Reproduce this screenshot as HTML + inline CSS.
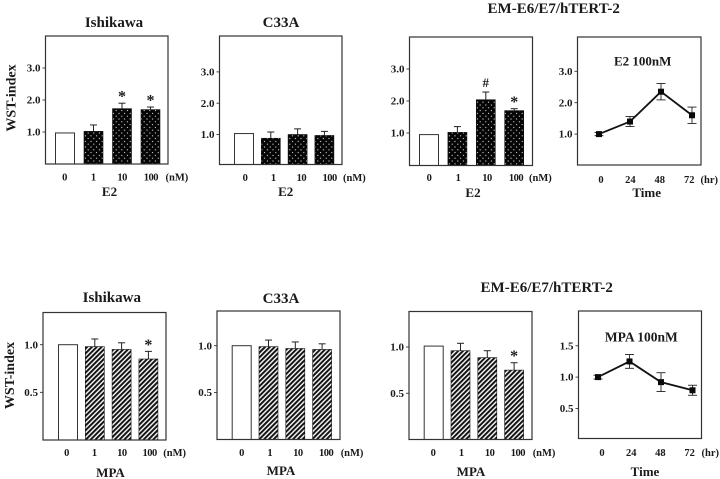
<!DOCTYPE html>
<html lang="en">
<head>
<meta charset="utf-8">
<title>WST-index charts</title>
<style>
html,body{margin:0;padding:0;background:#fff;}
body{width:720px;height:479px;overflow:hidden;}
svg{display:block;filter:blur(0.3px);}
text{font-family:"Liberation Serif",serif;font-weight:bold;fill:#1a1a1a;}
</style>
</head>
<body>
<svg id="figure" width="720" height="479" viewBox="0 0 720 479" xmlns="http://www.w3.org/2000/svg">
<defs>
<pattern id="dots" patternUnits="userSpaceOnUse" width="5.6" height="5.6">
<rect width="5.6" height="5.6" fill="#050505"/>
<circle cx="1.4" cy="1.4" r="0.6" fill="#e8e8e8"/>
<circle cx="4.2" cy="4.2" r="0.6" fill="#e8e8e8"/>
</pattern>
<pattern id="hatch" patternUnits="userSpaceOnUse" width="3.4" height="3.4" patternTransform="rotate(-45)">
<rect width="3.4" height="3.4" fill="#efefef"/>
<rect width="3.4" height="1.9" fill="#111"/>
</pattern>
</defs>
</svg>
<script>
var doseLabels = ['0', '1', '10', '100'];
var timeLabels = ['0', '24', '48', '72'];

var e2TickLabels = ['1.0', '2.0', '3.0'];
var e2TickValues = [1, 2, 3];
var mpaTickLabels = ['0.5', '1.0'];
var mpaTickValues = [0.5, 1];
var mpaTimeTickLabels = ['0.5', '1.0', '1.5'];
var mpaTimeTickValues = [0.5, 1, 1.5];

var ishikawaE2Values = [0.97, 1.02, 1.73, 1.70];
var ishikawaE2ErrorTops = [null, 1.22, 1.90, 1.78];
var ishikawaE2Marks = ['', '', '*', '*'];

var c33aE2Values = [1.03, 0.88, 1.00, 0.97];
var c33aE2ErrorTops = [null, 1.08, 1.18, 1.10];
var c33aE2Marks = ['', '', '', ''];

var emE2Values = [0.95, 1.02, 2.04, 1.70];
var emE2ErrorTops = [null, 1.20, 2.28, 1.76];
var emE2Marks = ['', '', '#', '*'];

var timeE2Values = [1.0, 1.4, 2.35, 1.6];
var timeE2Errors = [0.05, 0.16, 0.26, 0.26];

var ishikawaMpaValues = [1.0, 0.98, 0.95, 0.85];
var ishikawaMpaErrorTops = [null, 1.06, 1.02, 0.93];
var ishikawaMpaMarks = ['', '', '', '*'];

var c33aMpaValues = [1.0, 0.99, 0.97, 0.96];
var c33aMpaErrorTops = [null, 1.06, 1.04, 1.02];
var c33aMpaMarks = ['', '', '', ''];

var emMpaValues = [1.01, 0.96, 0.885, 0.75];
var emMpaErrorTops = [null, 1.04, 0.96, 0.83];
var emMpaMarks = ['', '', '', '*'];

var timeMpaValues = [1.0, 1.25, 0.92, 0.79];
var timeMpaErrors = [0.03, 0.11, 0.15, 0.08];

var svg = document.getElementById('figure');
var NS = 'http://www.w3.org/2000/svg';

function make(tag, attrs, name) {
  var el = document.createElementNS(NS, tag);
  for (var k in attrs) { el.setAttribute(k, attrs[k]); }
  
  
  return el;
}

function label(parent, x, y, str, size, anchor, name, spacing) {
  var t = make('text', {x: x, y: y, 'font-size': size, 'text-anchor': anchor || 'middle'}, name);
  if (spacing) { t.style.letterSpacing = spacing + 'px'; }
  t.textContent = str;
  parent.appendChild(t);
  return t;
}

function frame(id, g) {
  var box = make('rect', {x: g.left, y: g.top, width: g.right - g.left, height: g.bottom - g.top, fill: 'none', stroke: '#333', 'stroke-width': 1.2}, id + '-plot-frame');
  return box;
}

function yAxis(parent, id, g, tickValues, tickLabels) {
  var yScale = function (v) { return g.zero - v * g.unit; };
  tickValues.forEach(function (v, i) {
    var y = yScale(v);
    parent.appendChild(make('line', {x1: g.left - 3, x2: g.left, y1: y, y2: y, stroke: '#333', 'stroke-width': 0.9}, id + '-y-tick'));
    label(parent, g.left - 5, y + 3.6, tickLabels[i], 11, 'end', id + '-y-tick-label');
  });
  return yScale;
}

function barPanel(id, g, values, errorTops, marks, fillId, tickValues, tickLabels, xName) {
  var p = make('g', {}, id + '-panel');
  svg.appendChild(p);
  var yScale = yAxis(p, id, g, tickValues, tickLabels);
  var xScale = function (i) { return g.x0 + i * g.step; };
  var w = 19;
  values.forEach(function (v, i) {
    var cx = xScale(i);
    if (errorTops[i] !== null) {
      p.appendChild(make('line', {x1: cx, x2: cx, y1: yScale(v), y2: yScale(errorTops[i]), stroke: '#222', 'stroke-width': 1}, id + '-error-bar'));
      p.appendChild(make('line', {x1: cx - 3.5, x2: cx + 3.5, y1: yScale(errorTops[i]), y2: yScale(errorTops[i]), stroke: '#222', 'stroke-width': 1}, id + '-error-cap'));
    }
    var isControl = i === 0;
    p.appendChild(make('rect', {
      x: cx - w / 2, y: yScale(v), width: w, height: g.bottom - yScale(v),
      fill: isControl ? '#fff' : 'url(#' + fillId + ')',
      stroke: isControl ? '#333' : '#111', 'stroke-width': isControl ? 1 : 0.6
    }, id + '-bar-' + doseLabels[i]));
    if (marks[i]) {
      var top = errorTops[i] !== null ? errorTops[i] : v;
      label(p, cx, yScale(top) - (marks[i] === '#' ? 5 : 1.5), marks[i], marks[i] === '#' ? 13 : 16, 'middle', id + '-significance-mark');
    }
    label(p, g.labelX0 + i * g.labelStep, g.labelY, doseLabels[i], 10.5, 'middle', id + '-x-tick-label', -0.5);
  });
  label(p, g.unitX, g.labelY, '(nM)', 10.5, 'start', id + '-x-unit');
  label(p, g.nameX, g.nameY, xName, 13, 'middle', id + '-x-axis-title');
  p.appendChild(frame(id, g));
}

function linePanel(id, g, values, errors, tickValues, tickLabels, caption, captionSize) {
  var p = make('g', {}, id + '-panel');
  svg.appendChild(p);
  var yScale = yAxis(p, id, g, tickValues, tickLabels);
  var xScale = function (i) { return g.x0 + i * g.step; };
  var pts = values.map(function (v, i) { return xScale(i) + ',' + yScale(v); }).join(' ');
  p.appendChild(make('polyline', {points: pts, fill: 'none', stroke: '#111', 'stroke-width': 1.8}, id + '-line'));
  values.forEach(function (v, i) {
    var cx = xScale(i);
    var hi = yScale(v + errors[i]);
    var lo = yScale(v - errors[i]);
    p.appendChild(make('line', {x1: cx, x2: cx, y1: hi, y2: lo, stroke: '#222', 'stroke-width': 0.9}, id + '-error-bar'));
    p.appendChild(make('line', {x1: cx - 4.5, x2: cx + 4.5, y1: hi, y2: hi, stroke: '#222', 'stroke-width': 0.9}, id + '-error-cap'));
    p.appendChild(make('line', {x1: cx - 4.5, x2: cx + 4.5, y1: lo, y2: lo, stroke: '#222', 'stroke-width': 0.9}, id + '-error-cap'));
    p.appendChild(make('rect', {x: cx - 3, y: yScale(v) - 3, width: 6, height: 6, fill: '#0a0a0a'}, id + '-point-' + timeLabels[i]));
    label(p, g.labelX0 + i * g.labelStep, g.labelY, timeLabels[i], 10.5, 'middle', id + '-x-tick-label');
  });
  label(p, g.unitX, g.labelY, '(hr)', 10.5, 'start', id + '-x-unit');
  label(p, g.nameX, g.nameY, 'Time', 13, 'middle', id + '-x-axis-title');
  label(p, g.capX, g.capY, caption, captionSize, 'middle', id + '-inset-caption');
  p.appendChild(frame(id, g));
}

function title(x, y, str, name) {
  label(svg, x, y, str, 15, 'middle', name);
}

title(114, 27, 'Ishikawa', 'e2-ishikawa-title');
title(281, 27, 'C33A', 'e2-c33a-title');
title(553.7, 13, 'EM-E6/E7/hTERT-2', 'e2-em-title');
title(111.8, 302, 'Ishikawa', 'mpa-ishikawa-title');
title(281, 303, 'C33A', 'mpa-c33a-title');
title(546.7, 292, 'EM-E6/E7/hTERT-2', 'mpa-em-title');

var yt1 = make('text', {x: 15.5, y: 98, 'font-size': 14, 'text-anchor': 'middle', transform: 'rotate(-90 15.5 98)'}, 'e2-y-axis-title');
yt1.textContent = 'WST-index';
svg.appendChild(yt1);
var yt2 = make('text', {x: 14, y: 375.5, 'font-size': 14, 'text-anchor': 'middle', transform: 'rotate(-90 14 375.5)'}, 'mpa-y-axis-title');
yt2.textContent = 'WST-index';
svg.appendChild(yt2);

barPanel('e2-ishikawa',
  {left: 45.5, right: 168, top: 36, bottom: 164, zero: 164, unit: 32, x0: 65, step: 28.5, labelX0: 64.5, labelStep: 28.8, labelY: 180.5, unitX: 165.5, nameX: 109.5, nameY: 196},
  ishikawaE2Values, ishikawaE2ErrorTops, ishikawaE2Marks, 'dots', e2TickValues, e2TickLabels, 'E2');
barPanel('e2-c33a',
  {left: 219.5, right: 342, top: 36, bottom: 164.5, zero: 165.8, unit: 31.3, x0: 244, step: 26.8, labelX0: 245, labelStep: 28.2, labelY: 181, unitX: 343, nameX: 285.7, nameY: 196},
  c33aE2Values, c33aE2ErrorTops, c33aE2Marks, 'dots', e2TickValues, e2TickLabels, 'E2');
barPanel('e2-em',
  {left: 409.5, right: 532.5, top: 37, bottom: 165.5, zero: 165, unit: 32, x0: 429, step: 28.4, labelX0: 429, labelStep: 29, labelY: 181, unitX: 529, nameX: 473, nameY: 197},
  emE2Values, emE2ErrorTops, emE2Marks, 'dots', e2TickValues, e2TickLabels, 'E2');
linePanel('e2-time',
  {left: 577.5, right: 701, top: 37, bottom: 165, zero: 165.5, unit: 31.4, x0: 599, step: 31, labelX0: 601, labelStep: 29.4, labelY: 183, unitX: 700.5, nameX: 646.7, nameY: 197, capX: 642.7, capY: 65.5},
  timeE2Values, timeE2Errors, e2TickValues, e2TickLabels, 'E2 100nM', 13);

barPanel('mpa-ishikawa',
  {left: 43, right: 166, top: 312.5, bottom: 440, zero: 440, unit: 95.3, x0: 68, step: 26.8, labelX0: 66.5, labelStep: 27.7, labelY: 456, unitX: 163.3, nameX: 110.5, nameY: 477},
  ishikawaMpaValues, ishikawaMpaErrorTops, ishikawaMpaMarks, 'hatch', mpaTickValues, mpaTickLabels, 'MPA');
barPanel('mpa-c33a',
  {left: 217, right: 340, top: 311, bottom: 439.5, zero: 439.5, unit: 93.8, x0: 241.7, step: 26.8, labelX0: 241.5, labelStep: 28.2, labelY: 456, unitX: 340.7, nameX: 281, nameY: 475},
  c33aMpaValues, c33aMpaErrorTops, c33aMpaMarks, 'hatch', mpaTickValues, mpaTickLabels, 'MPA');
barPanel('mpa-em',
  {left: 409, right: 532, top: 311.5, bottom: 439.5, zero: 439.5, unit: 92.5, x0: 433.7, step: 26.8, labelX0: 433, labelStep: 28.3, labelY: 456, unitX: 532.7, nameX: 471, nameY: 476},
  emMpaValues, emMpaErrorTops, emMpaMarks, 'hatch', mpaTickValues, mpaTickLabels, 'MPA');
linePanel('mpa-time',
  {left: 578.5, right: 701.5, top: 311, bottom: 438.5, zero: 439.8, unit: 62.7, x0: 598, step: 31.5, labelX0: 602, labelStep: 29.2, labelY: 456, unitX: 701.5, nameX: 645, nameY: 476, capX: 641.3, capY: 341.7},
  timeMpaValues, timeMpaErrors, mpaTimeTickValues, mpaTimeTickLabels, 'MPA 100nM', 13.5);
</script>
</body>
</html>
